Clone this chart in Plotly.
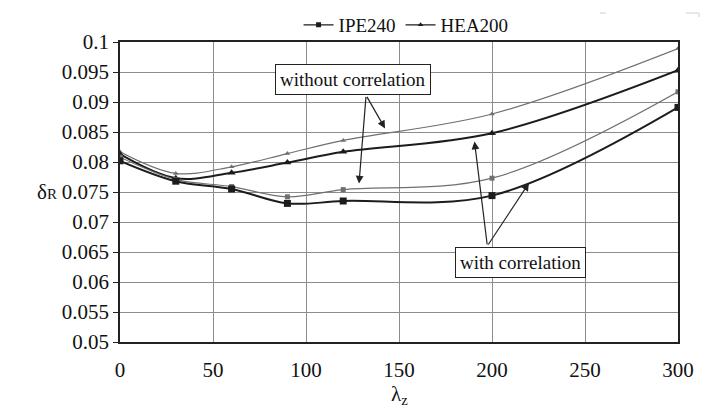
import plotly.graph_objects as go

# Slenderness values and relative resistance factor delta_R
lambda_z = [0, 30, 60, 90, 120, 200, 300]

hea200_without = [0.0817, 0.0781, 0.0792, 0.0814, 0.0836, 0.0880, 0.0989]
hea200_with = [0.0813, 0.0773, 0.0782, 0.0799, 0.0817, 0.0848, 0.0953]
ipe240_without = [0.0808, 0.0771, 0.0759, 0.0742, 0.0754, 0.0773, 0.0917]
ipe240_with = [0.0802, 0.0768, 0.0755, 0.0731, 0.0735, 0.0744, 0.0891]

x_ticks = [0, 50, 100, 150, 200, 250, 300]
y_ticks = [0.05, 0.055, 0.06, 0.065, 0.07, 0.075, 0.08, 0.085, 0.09, 0.095, 0.1]
y_tick_text = ["0.05", "0.055", "0.06", "0.065", "0.07", "0.075", "0.08",
               "0.085", "0.09", "0.095", "0.1"]

SERIF = "'Liberation Serif', 'Times New Roman', 'DejaVu Serif', serif"
THIN = "#707070"
THICK = "#1c1c1c"

fig = go.Figure()


def curve(y, symbol, size, color, width):
    return go.Scatter(
        x=lambda_z, y=y, mode="lines+markers", showlegend=False,
        line=dict(shape="spline", smoothing=1.0, color=color, width=width),
        marker=dict(symbol=symbol, size=size, color=color),
        hoverinfo="skip",
    )


fig.add_trace(curve(hea200_without, "triangle-up", 5, THIN, 1.2))
fig.add_trace(curve(hea200_with, "triangle-up", 7, THICK, 2.0))
fig.add_trace(curve(ipe240_without, "square", 5, THIN, 1.2))
fig.add_trace(curve(ipe240_with, "square", 7, THICK, 2.0))

# legend keys
fig.add_trace(go.Scatter(x=[None], y=[None], mode="lines+markers", name="IPE240",
                         line=dict(color=THICK, width=1.3),
                         marker=dict(symbol="square", size=5, color=THICK)))
fig.add_trace(go.Scatter(x=[None], y=[None], mode="lines+markers", name="HEA200",
                         line=dict(color=THICK, width=1.3),
                         marker=dict(symbol="triangle-up", size=5, color=THICK)))

annotations = []


def label(text, x, y):
    annotations.append(dict(
        x=x, y=y, xref="x", yref="y", text=text, showarrow=False,
        font=dict(family=SERIF, size=19, color="#111"),
        bgcolor="white", bordercolor="#222", borderwidth=1, borderpad=4,
    ))


def arrow(x_tip, y_tip, x_tail, y_tail):
    annotations.append(dict(
        x=x_tip, y=y_tip, xref="x", yref="y",
        ax=x_tail, ay=y_tail, axref="x", ayref="y",
        text="", showarrow=True, arrowhead=2, arrowsize=1.3,
        arrowwidth=1.2, arrowcolor="#222",
    ))


arrow(142.5, 0.0856, 132.3, 0.0911)
arrow(128.5, 0.0764, 132.3, 0.0911)
arrow(190.6, 0.0834, 197.5, 0.0660)
arrow(219.9, 0.0765, 197.5, 0.0660)
label("without correlation", 125.0, 0.0938)
label("with correlation", 215.4, 0.0633)

# axis titles
annotations.append(dict(
    x=35, y=0.075, xref="paper", yref="y", showarrow=False,
    text="δ<span style='font-size:15px'>R</span>",
    font=dict(family=SERIF, size=21, color="#111"),
))
annotations.append(dict(
    x=150, y=-0.177, xref="x", yref="paper", showarrow=False,
    yanchor="middle",
    text="λ<sub>z</sub>",
    font=dict(family=SERIF, size=21, color="#111"),
))
annotations[-2]["x"] = (35 - 120) / 558

fig.update_layout(
    width=709, height=409,
    margin=dict(l=120, r=31, t=42, b=67, autoexpand=False),
    paper_bgcolor="white", plot_bgcolor="white",
    font=dict(family=SERIF, size=20, color="#111"),
    showlegend=True,
    legend=dict(
        orientation="h", x=0.32, y=(342 - 25) / 300, xanchor="left",
        yanchor="middle",
        font=dict(family=SERIF, size=19, color="#111"),
        bgcolor="rgba(0,0,0,0)", itemwidth=30, tracegroupgap=0,
    ),
    annotations=annotations,
    shapes=[
        dict(type="line", xref="paper", yref="paper",
             x0=(600 - 120) / 558, x1=(606 - 120) / 558,
             y0=(342 - 13) / 300, y1=(342 - 13) / 300,
             line=dict(color="#d0d0d0", width=1)),
        dict(type="path", xref="paper", yref="paper",
             path="M {a},{b} L {c},{b} L {c},{d}".format(
                 a=(686 - 120) / 558, c=(699 - 120) / 558,
                 b=(342 - 13) / 300, d=(342 - 17) / 300),
             line=dict(color="#d0d0d0", width=1)),
    ],
)

fig.update_xaxes(
    range=[0, 300], tickvals=x_ticks, ticktext=[str(v) for v in x_ticks],
    showgrid=True, gridcolor="#8c8c8c", gridwidth=1.3,
    showline=True, linecolor="#222", linewidth=1.5, mirror=True,
    ticks="", zeroline=False, ticklabelstandoff=8,
    tickfont=dict(family=SERIF, size=21, color="#111"),
)
fig.update_yaxes(
    range=[0.05, 0.1], tickvals=y_ticks, ticktext=y_tick_text,
    showgrid=True, gridcolor="#8c8c8c", gridwidth=1.3,
    showline=True, linecolor="#222", linewidth=1.5, mirror=True,
    ticks="outside", ticklen=5, tickcolor="#222", zeroline=False,
    tickfont=dict(family=SERIF, size=21, color="#111"),
)

fig.write_html("out.html")
